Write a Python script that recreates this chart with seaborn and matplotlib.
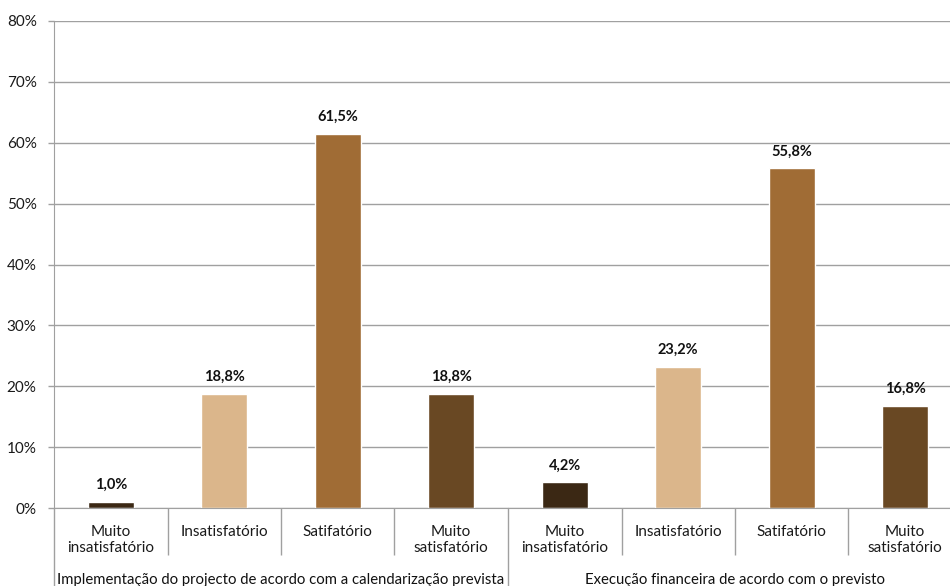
import pandas as pd
import matplotlib.pyplot as plt
import seaborn as sns

# dados
grupos = ["Implementação do projecto de acordo com a calendarização prevista",
          "Execução financeira de acordo com o previsto"]
niveis = ["Muito insatisfatório", "Insatisfatório", "Satifatório", "Muito satisfatório"]
rotulos = ["Muito\ninsatisfatório", "Insatisfatório", "Satifatório", "Muito\nsatisfatório"]
valores_impl = [1.0, 18.8, 61.5, 18.8]
valores_exec = [4.2, 23.2, 55.8, 16.8]
cores = ["#3b2814", "#dbb68b", "#a06c35", "#694823"]

tabela = pd.DataFrame({
    "grupo": [grupos[0]] * 4 + [grupos[1]] * 4,
    "nivel": niveis * 2,
    "valor": valores_impl + valores_exec,
})
tabela["pos"] = [f"{i}" for i in range(len(tabela))]

sns.set_style("white")
plt.rcParams["font.family"] = ["Lato", "DejaVu Sans"]

fig = plt.figure(figsize=(9.5, 5.86), dpi=100)
ax = fig.add_axes([54 / 950, 1 - 508 / 586, 908 / 950, 487 / 586])

sns.barplot(data=tabela, x="pos", y="valor", hue="nivel", dodge=False,
            palette=dict(zip(niveis, cores)), width=0.405, ax=ax,
            legend=False, saturation=1)

ax.set_ylim(0, 80)
ax.set_xlim(-0.5, 7.5)
ax.set_yticks(range(0, 81, 10))
ax.set_yticklabels([f"{v}%" for v in range(0, 81, 10)], fontsize=11, color="#1a1a1a")
ax.yaxis.grid(True, color="#a0a0a0", linewidth=1)
ax.set_axisbelow(True)
ax.tick_params(axis="y", length=4.5, width=1, color="#a0a0a0", pad=8, left=True)

for s in ["top", "right"]:
    ax.spines[s].set_visible(False)
ax.spines["left"].set_color("#a0a0a0")
ax.spines["bottom"].set_color("#a0a0a0")

# rótulos das categorias
ax.set_xticks(range(8))
ax.set_xticklabels(rotulos * 2, fontsize=11, color="#1a1a1a", va="top", linespacing=1.15)
ax.tick_params(axis="x", length=0, pad=12.5)
ax.set_xticks([0.5, 1.5, 2.5, 4.5, 5.5, 6.5], minor=True)
ax.tick_params(axis="x", which="minor", length=34, width=1, color="#a0a0a0", bottom=True)
ax.set_xlabel("")
ax.set_ylabel("")

# separadores dos grupos
for xg in [-0.5, 3.5, 7.5]:
    ax.axvline(xg, ymin=-0.17, ymax=0, color="#a0a0a0", linewidth=1, clip_on=False)

for i, g in enumerate(grupos):
    ax.text(1.5 + 4 * i, -0.148, g, transform=ax.get_xaxis_transform(),
            ha="center", va="center", fontsize=10.7, color="#111111")

# valores por cima das barras
for i, v in enumerate(tabela["valor"]):
    ax.annotate(f"{v:.1f}%".replace(".", ","), (i, v), xytext=(0, 7),
                textcoords="offset points", ha="center", va="bottom",
                fontsize=10.5, fontweight="bold", color="#111111")

fig.savefig("out.png", dpi=100)
